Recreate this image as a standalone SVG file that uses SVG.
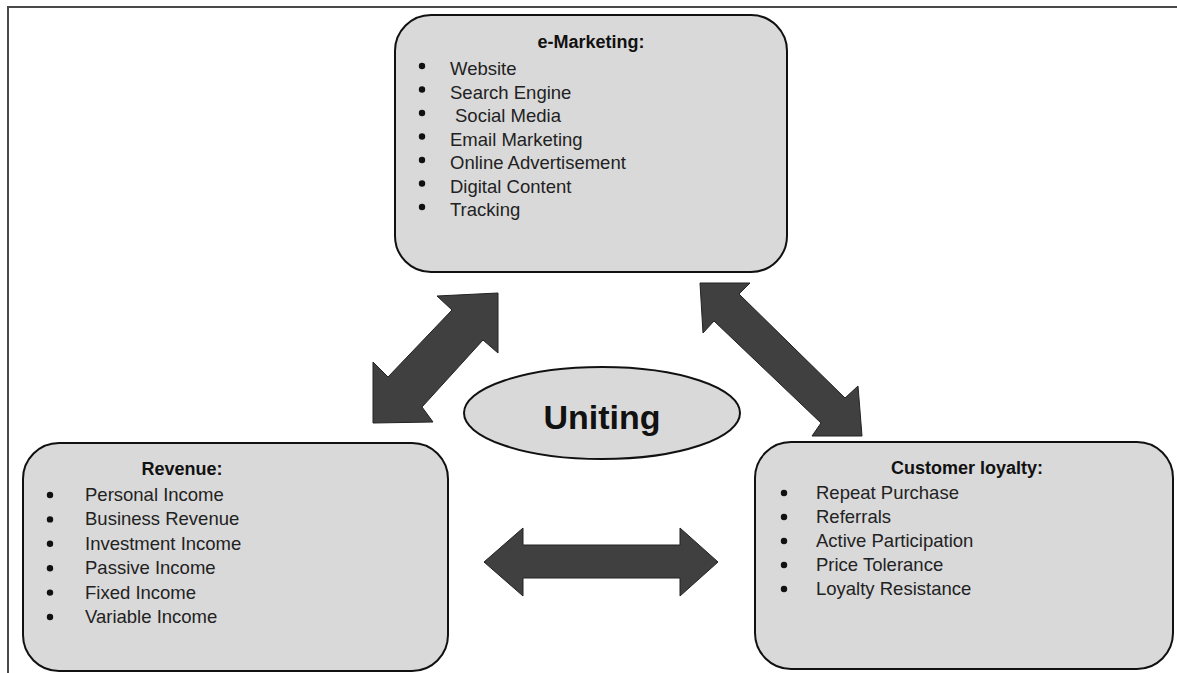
<svg xmlns="http://www.w3.org/2000/svg" width="1177" height="673" viewBox="0 0 1177 673">
  <style>
    .box { fill: #d9d9d9; stroke: #111; stroke-width: 2; }
    .arrow { fill: #404040; stroke: #222; stroke-width: 1; stroke-linejoin: miter; }
    .title { font-family: "Liberation Sans", Arial, sans-serif; font-size: 18px; font-weight: bold; fill: #111; text-anchor: middle; }
    .item { font-family: "Liberation Sans", Arial, sans-serif; font-size: 18.5px; fill: #222; }
    .dot { fill: #111; }
    .big { font-family: "Liberation Sans", Arial, sans-serif; font-size: 34px; font-weight: bold; fill: #111; text-anchor: middle; }
  </style>
  <rect width="1177" height="673" fill="#fff"/>
  <!-- page frame -->
  <path d="M8 673 V7 H1177" fill="none" stroke="#4a4a4a" stroke-width="2"/>

  <g id="connectors">
    <!-- e-Marketing / Revenue -->
    <polygon class="arrow" points="498,293 498,353 483,340 422,407 433,422 373,423 373,362 388,377 452,310 437,296"/>
    <!-- e-Marketing / Customer loyalty -->
    <polygon class="arrow" points="700,283 750,283 739,294 845,398 858,386 862,436 812,436 821,423 714,321 703,333"/>
    <!-- Revenue / Customer loyalty -->
    <polygon class="arrow" points="484,562 523,528 523,545 680,545 680,528 718,562 680,596 680,578 523,578 523,596"/>
  </g>

  <g id="e-marketing">
    <rect class="box" x="395" y="15" width="392" height="257" rx="36"/>
    <text class="title" x="591" y="48">e-Marketing:</text>
    <g class="dot">
      <circle cx="422" cy="66" r="3.2"/>
      <circle cx="422" cy="89.5" r="3.2"/>
      <circle cx="422" cy="113" r="3.2"/>
      <circle cx="422" cy="136.5" r="3.2"/>
      <circle cx="422" cy="160" r="3.2"/>
      <circle cx="422" cy="183.5" r="3.2"/>
      <circle cx="422" cy="207" r="3.2"/>
    </g>
    <text class="item" x="450" y="75">Website</text>
    <text class="item" x="450" y="98.5">Search Engine</text>
    <text class="item" x="455" y="122">Social Media</text>
    <text class="item" x="450" y="145.5">Email Marketing</text>
    <text class="item" x="450" y="169">Online Advertisement</text>
    <text class="item" x="450" y="192.5">Digital Content</text>
    <text class="item" x="450" y="216">Tracking</text>
  </g>

  <g id="revenue">
    <rect class="box" x="23" y="443" width="425" height="228" rx="36"/>
    <text class="title" x="182" y="475">Revenue:</text>
    <g class="dot">
      <circle cx="50" cy="495" r="3.2"/>
      <circle cx="50" cy="519.4" r="3.2"/>
      <circle cx="50" cy="543.8" r="3.2"/>
      <circle cx="50" cy="568.2" r="3.2"/>
      <circle cx="50" cy="592.6" r="3.2"/>
      <circle cx="50" cy="617" r="3.2"/>
    </g>
    <text class="item" x="85" y="501">Personal Income</text>
    <text class="item" x="85" y="525.4">Business Revenue</text>
    <text class="item" x="85" y="549.8">Investment Income</text>
    <text class="item" x="85" y="574.2">Passive Income</text>
    <text class="item" x="85" y="598.6">Fixed Income</text>
    <text class="item" x="85" y="623">Variable Income</text>
  </g>

  <g id="customer-loyalty">
    <rect class="box" x="755" y="442" width="418" height="227" rx="36"/>
    <text class="title" x="967" y="474">Customer loyalty:</text>
    <g class="dot">
      <circle cx="784" cy="493" r="3.2"/>
      <circle cx="784" cy="517" r="3.2"/>
      <circle cx="784" cy="541" r="3.2"/>
      <circle cx="784" cy="565" r="3.2"/>
      <circle cx="784" cy="589" r="3.2"/>
    </g>
    <text class="item" x="816" y="499">Repeat Purchase</text>
    <text class="item" x="816" y="523">Referrals</text>
    <text class="item" x="816" y="547">Active Participation</text>
    <text class="item" x="816" y="571">Price Tolerance</text>
    <text class="item" x="816" y="595">Loyalty Resistance</text>
  </g>

  <g id="uniting">
    <ellipse class="box" cx="602" cy="413" rx="138" ry="46"/>
    <text class="big" x="602" y="429">Uniting</text>
  </g>
</svg>
